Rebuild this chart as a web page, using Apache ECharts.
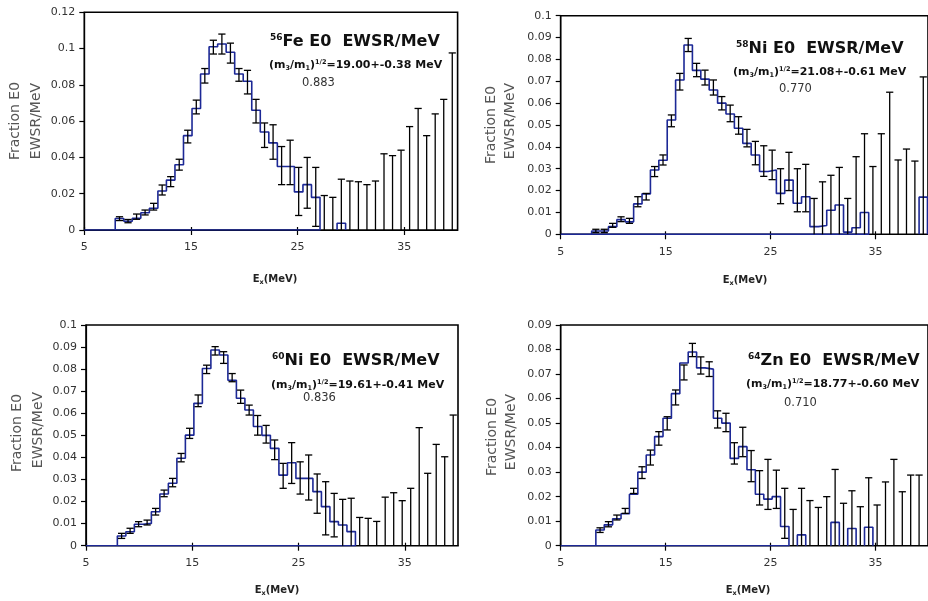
<!DOCTYPE html>
<html>
<head>
<meta charset="utf-8">
<script src="https://cdn.jsdelivr.net/npm/echarts@6/dist/echarts.min.js"></script>
<style>
html,body{margin:0;padding:0;background:#fff;overflow:hidden;}
#chart{width:928px;height:601px;}
</style>
</head>
<body>
<div id="chart"></div>
<script>
// ---------------- data ----------------
const xTicks = [5, 15, 25, 35];
const binW = 0.8;

// 56Fe
const feE = [8.3, 9.1, 9.9, 10.7, 11.5, 12.3, 13.1, 13.9, 14.7, 15.5, 16.3, 17.1, 17.9, 18.7, 19.5, 20.3, 21.1, 21.9, 22.7, 23.5, 24.3, 25.1, 25.9, 26.7, 27.5, 28.3, 29.1, 29.9, 30.7, 31.5, 32.3, 33.1, 33.9, 34.7, 35.5, 36.3, 37.1, 37.9, 38.7, 39.5];
const feVal = [0.0063, 0.0048, 0.0065, 0.0095, 0.012, 0.0215, 0.0275, 0.036, 0.052, 0.067, 0.086, 0.101, 0.1025, 0.098, 0.086, 0.082, 0.066, 0.054, 0.048, 0.035, 0.035, 0.021, 0.025, 0.018, 0, 0, 0.0037, 0, 0, 0, 0, 0, 0, 0, 0, 0, 0, 0, 0, 0];
const feHi = [0.0073, 0.0058, 0.0088, 0.011, 0.0147, 0.0248, 0.0294, 0.039, 0.055, 0.0716, 0.089, 0.1046, 0.108, 0.103, 0.089, 0.088, 0.072, 0.059, 0.058, 0.046, 0.0495, 0.0345, 0.040, 0.0345, 0.019, 0.018, 0.028, 0.027, 0.0266, 0.025, 0.027, 0.042, 0.041, 0.044, 0.057, 0.067, 0.052, 0.064, 0.072, 0.0976];
const feLo = [0.0052, 0.004, 0.0059, 0.0083, 0.011, 0.0193, 0.0239, 0.033, 0.048, 0.064, 0.081, 0.097, 0.097, 0.092, 0.082, 0.075, 0.059, 0.0455, 0.039, 0.025, 0.025, 0.008, 0.012, 0.002, 0, 0, 0, 0, 0, 0, 0, 0, 0, 0, 0, 0, 0, 0, 0, 0];

// 58Ni
const ni58E = [8.35, 9.15, 9.95, 10.75, 11.55, 12.35, 13.15, 13.95, 14.75, 15.55, 16.35, 17.15, 17.95, 18.75, 19.55, 20.35, 21.15, 21.95, 22.75, 23.55, 24.35, 25.15, 25.95, 26.75, 27.55, 28.35, 29.15, 29.95, 30.75, 31.55, 32.35, 33.15, 33.95, 34.75, 35.55, 36.35, 37.15, 37.95, 38.75, 39.55];
const ni58Val = [0.0015, 0.0015, 0.0035, 0.0067, 0.0057, 0.0139, 0.0185, 0.0294, 0.0339, 0.0523, 0.0706, 0.0866, 0.075, 0.071, 0.066, 0.060, 0.055, 0.0485, 0.0416, 0.0363, 0.0287, 0.0294, 0.0187, 0.0248, 0.0142, 0.0172, 0.0035, 0.004, 0.011, 0.0134, 0.001, 0.003, 0.010, 0, 0, 0, 0, 0, 0, 0.017];
const ni58Hi = [0.0023, 0.0023, 0.005, 0.008, 0.0073, 0.0172, 0.0187, 0.031, 0.0363, 0.0546, 0.0736, 0.0896, 0.0782, 0.0751, 0.0706, 0.063, 0.0591, 0.0538, 0.048, 0.0425, 0.0405, 0.0385, 0.030, 0.0375, 0.030, 0.032, 0.0164, 0.024, 0.027, 0.0306, 0.0164, 0.0355, 0.046, 0.031, 0.046, 0.065, 0.034, 0.039, 0.0335, 0.072];
const ni58Lo = [0.0008, 0.0008, 0.0032, 0.0058, 0.005, 0.0126, 0.0157, 0.0264, 0.0317, 0.0492, 0.066, 0.0836, 0.0721, 0.0683, 0.0637, 0.0569, 0.0515, 0.0458, 0.040, 0.0318, 0.0265, 0.025, 0.014, 0.020, 0.0103, 0.0103, 0, 0, 0, 0, 0, 0, 0, 0, 0, 0, 0, 0, 0, 0];

// 60Ni
const ni60E = [8.35, 9.15, 9.95, 10.75, 11.55, 12.35, 13.15, 13.95, 14.75, 15.55, 16.35, 17.15, 17.95, 18.75, 19.55, 20.35, 21.15, 21.95, 22.75, 23.55, 24.35, 25.15, 25.95, 26.75, 27.55, 28.35, 29.15, 29.95, 30.75, 31.55, 32.35, 33.15, 33.95, 34.75, 35.55, 36.35, 37.15, 37.95, 38.75, 39.55];
const ni60Val = [0.0044, 0.0063, 0.0097, 0.0101, 0.0154, 0.0234, 0.0283, 0.0396, 0.0501, 0.0645, 0.0803, 0.0887, 0.0864, 0.075, 0.0668, 0.0615, 0.054, 0.050, 0.0441, 0.032, 0.0376, 0.0305, 0.0305, 0.0245, 0.0177, 0.0109, 0.0094, 0.0064, 0, 0, 0, 0, 0, 0, 0, 0, 0, 0, 0, 0];
const ni60Hi = [0.0056, 0.0079, 0.0109, 0.0116, 0.0169, 0.0252, 0.0305, 0.0418, 0.0532, 0.0683, 0.0818, 0.0902, 0.0879, 0.078, 0.0705, 0.0637, 0.059, 0.0545, 0.0479, 0.0373, 0.0467, 0.038, 0.0411, 0.0325, 0.029, 0.0237, 0.021, 0.0215, 0.0128, 0.0124, 0.011, 0.022, 0.024, 0.0204, 0.026, 0.0535, 0.0328, 0.0459, 0.0403, 0.0592];
const ni60Lo = [0.0033, 0.0056, 0.0086, 0.0094, 0.0139, 0.0222, 0.0267, 0.038, 0.0486, 0.063, 0.078, 0.0864, 0.0826, 0.0743, 0.0645, 0.0592, 0.0501, 0.0465, 0.039, 0.026, 0.0282, 0.0234, 0.0207, 0.0147, 0.0049, 0.004, 0, 0, 0, 0, 0, 0, 0, 0, 0, 0, 0, 0, 0, 0];

// 64Zn
const znE = [8.75, 9.55, 10.35, 11.15, 11.95, 12.75, 13.55, 14.35, 15.15, 15.95, 16.75, 17.55, 18.35, 19.15, 19.95, 20.75, 21.55, 22.35, 23.15, 23.95, 24.75, 25.55, 26.35, 27.15, 27.95, 28.75, 29.55, 30.35, 31.15, 31.95, 32.75, 33.55, 34.35, 35.15, 35.95, 36.75, 37.55, 38.35, 39.15];
const znVal = [0.0064, 0.0085, 0.011, 0.013, 0.021, 0.030, 0.037, 0.0445, 0.052, 0.062, 0.0745, 0.079, 0.0725, 0.072, 0.052, 0.050, 0.0356, 0.0404, 0.031, 0.021, 0.019, 0.020, 0.0078, 0, 0.0044, 0, 0, 0, 0.0095, 0, 0.007, 0, 0.0075, 0, 0, 0, 0, 0, 0];
const znHi = [0.0073, 0.0098, 0.0125, 0.0152, 0.0234, 0.0322, 0.039, 0.0465, 0.0526, 0.0635, 0.0737, 0.0825, 0.077, 0.075, 0.055, 0.054, 0.042, 0.0483, 0.0388, 0.0306, 0.0352, 0.0308, 0.0234, 0.0148, 0.0234, 0.0184, 0.0156, 0.020, 0.0311, 0.0173, 0.0224, 0.0159, 0.0277, 0.0166, 0.026, 0.0352, 0.022, 0.0288, 0.0288];
const znLo = [0.0054, 0.0077, 0.0105, 0.0132, 0.0213, 0.0274, 0.0329, 0.041, 0.0472, 0.0574, 0.0676, 0.0771, 0.070, 0.069, 0.048, 0.0465, 0.0333, 0.0363, 0.0261, 0.0166, 0.0148, 0.0152, 0.003, 0, 0, 0, 0, 0, 0, 0, 0, 0, 0, 0, 0, 0, 0, 0, 0];

// text
const nuclei = ['56', '58', '60', '64'];
const elements = ['Fe', 'Ni', 'Ni', 'Zn'];
const centroids = ['19.00+-0.38', '21.08+-0.61', '19.61+-0.41', '18.77+-0.60'];
const fractions = ['0.883', '0.770', '0.836', '0.710'];
const yMaxes = [0.12, 0.1, 0.1, 0.09];
const ySteps = [0.02, 0.01, 0.01, 0.01];

// ---------------- layout ----------------
const FONT = 'DejaVu Sans';
const BLUE = '#1c2896';
const layout = [
  {grid: {left: 84.3, top: 12.3, width: 373.3, height: 217.7}, title: [270, 42], sub: [269, 65], frac: [302, 83], yt1: [15, 121], yt2: [36, 121], xt: [275, 279]},
  {grid: {left: 560.7, top: 15.7, width: 372.8, height: 218.6}, title: [736, 49], sub: [733, 72], frac: [779, 89], yt1: [491, 125], yt2: [510, 121], xt: [745, 280]},
  {grid: {left: 86, top: 325, width: 372, height: 220.7}, title: [272, 361], sub: [271, 385], frac: [303, 398], yt1: [17, 433], yt2: [38, 430], xt: [277, 590]},
  {grid: {left: 560.7, top: 325, width: 374.5, height: 220.7}, title: [748, 361], sub: [746, 384], frac: [784, 403], yt1: [492, 437], yt2: [511, 432], xt: [748, 590]}
];

const panels = [
  {E: feE, val: feVal, hi: feHi, lo: feLo},
  {E: ni58E, val: ni58Val, hi: ni58Hi, lo: ni58Lo},
  {E: ni60E, val: ni60Val, hi: ni60Hi, lo: ni60Lo},
  {E: znE, val: znVal, hi: znHi, lo: znLo}
];

// build step runs (contiguous non-zero bins); first run starts at axis min and returns along baseline
function stepRuns(E, val, xmin) {
  const runs = [];
  let cur = null, first = true;
  for (let i = 0; i < E.length; i++) {
    const l = E[i] - binW / 2, r = E[i] + binW / 2, v = val[i];
    if (v > 0) {
      if (!cur) {
        cur = [];
        if (first) cur.push([xmin, 0]);
        cur.push([l, 0]);
      }
      cur.push([l, v], [r, v]);
    } else if (cur) {
      cur.push([l, 0]);
      if (first) { cur.push([xmin, 0]); first = false; }
      runs.push(cur); cur = null;
    }
  }
  if (cur) {
    cur.push([E[E.length - 1] + binW / 2, 0]);
    if (first) cur.push([xmin, 0]);
    runs.push(cur);
  }
  return runs;
}

const grids = [], xAxes = [], yAxes = [], series = [], graphics = [];
const axisLabelStyle = {fontFamily: FONT, fontSize: 11, color: '#333'};

panels.forEach((p, k) => {
  const L = layout[k];
  grids.push(Object.assign({show: true, borderColor: '#000', borderWidth: 1.6, backgroundColor: '#fff'}, L.grid));
  xAxes.push({
    type: 'value', gridIndex: k, min: 5, max: 40, position: 'bottom',
    axisLine: {show: true, onZero: false, lineStyle: {color: '#000', width: 1.2}},
    axisTick: {show: true, customValues: xTicks, length: 5, lineStyle: {color: '#000', width: 1.2}},
    axisLabel: Object.assign({customValues: xTicks, margin: 12}, axisLabelStyle),
    splitLine: {show: false}
  });
  xAxes.push({
    type: 'value', gridIndex: k, min: 5, max: 40, position: 'bottom', offset: 0,
    axisLine: {show: false},
    axisTick: {show: true, inside: true, customValues: xTicks, length: 3, lineStyle: {color: '#000', width: 1.2}},
    axisLabel: {show: false},
    splitLine: {show: false}
  });
  yAxes.push({
    type: 'value', gridIndex: k, min: 0, max: yMaxes[k], interval: ySteps[k],
    axisLine: {show: true, lineStyle: {color: '#000', width: 1.2}},
    axisTick: {show: true, length: 5, lineStyle: {color: '#000', width: 1.2}},
    axisLabel: Object.assign({margin: 9}, axisLabelStyle),
    splitLine: {show: false}
  });

  stepRuns(p.E, p.val, 5).forEach(run => {
    series.push({
      type: 'line', xAxisIndex: 2 * k, yAxisIndex: k, data: run,
      symbol: 'none', showSymbol: false, silent: true, animation: false, z: 3,
      lineStyle: {color: BLUE, width: 1.6}
    });
  });

  series.push({
    type: 'custom', xAxisIndex: 2 * k, yAxisIndex: k, z: 4, silent: true, animation: false, clip: false,
    data: p.E.map((e, i) => [e, p.lo[i], p.hi[i]]),
    encode: {x: 0, y: [1, 2]},
    renderItem: function (params, api) {
      const x = api.value(0), lo = api.value(1), hi = api.value(2);
      const t = api.coord([x, hi]), b = api.coord([x, lo]);
      const cw = 3.6;
      const st = {stroke: '#000', lineWidth: 1.3};
      const ch = [
        {type: 'line', shape: {x1: t[0], y1: t[1], x2: b[0], y2: b[1]}, style: st},
        {type: 'line', shape: {x1: t[0] - cw, y1: t[1], x2: t[0] + cw, y2: t[1]}, style: st}
      ];
      if (lo > 0) ch.push({type: 'line', shape: {x1: b[0] - cw, y1: b[1], x2: b[0] + cw, y2: b[1]}, style: st});
      return {type: 'group', children: ch};
    }
  });

  // texts
  graphics.push({
    type: 'text', x: L.title[0], y: L.title[1], z: 10,
    style: {
      text: '{s|' + nuclei[k] + '}{t|' + elements[k] + ' E0  EWSR/MeV}',
      verticalAlign: 'middle', align: 'left', fill: '#111',
      rich: {
        s: {fontFamily: FONT, fontWeight: 'bold', fontSize: 9, verticalAlign: 'top', lineHeight: 18, fill: '#111'},
        t: {fontFamily: FONT, fontWeight: 'bold', fontSize: 16, lineHeight: 18, fill: '#111'}
      }
    }
  });
  graphics.push({
    type: 'text', x: L.sub[0], y: L.sub[1], z: 10,
    style: {
      text: '{b|(m}{d|3}{b|/m}{d|1}{b|)}{u|1/2}{b|=' + centroids[k] + ' MeV}',
      verticalAlign: 'middle', align: 'left', fill: '#111',
      rich: {
        b: {fontFamily: FONT, fontWeight: 'bold', fontSize: 11, lineHeight: 13, fill: '#111'},
        d: {fontFamily: FONT, fontWeight: 'bold', fontSize: 6.5, lineHeight: 13, verticalAlign: 'bottom', fill: '#111'},
        u: {fontFamily: FONT, fontWeight: 'bold', fontSize: 6.5, lineHeight: 13, verticalAlign: 'top', fill: '#111'}
      }
    }
  });
  graphics.push({
    type: 'text', x: L.frac[0], y: L.frac[1], z: 10,
    style: {text: fractions[k], fontFamily: FONT, fontSize: 11.5, fill: '#333', verticalAlign: 'middle', align: 'left'}
  });
  graphics.push({
    type: 'text', x: L.yt1[0], y: L.yt1[1], rotation: Math.PI / 2, z: 10,
    style: {text: 'Fraction E0', fontFamily: FONT, fontSize: 14, fill: '#555', verticalAlign: 'middle', align: 'center'}
  });
  graphics.push({
    type: 'text', x: L.yt2[0], y: L.yt2[1], rotation: Math.PI / 2, z: 10,
    style: {text: 'EWSR/MeV', fontFamily: FONT, fontSize: 14, fill: '#555', verticalAlign: 'middle', align: 'center'}
  });
  graphics.push({
    type: 'text', x: L.xt[0], y: L.xt[1], z: 10,
    style: {
      text: '{b|E}{d|x}{b|(MeV)}', verticalAlign: 'middle', align: 'center', fill: '#222',
      rich: {
        b: {fontFamily: FONT, fontWeight: 'bold', fontSize: 10, lineHeight: 13, fill: '#222'},
        d: {fontFamily: FONT, fontWeight: 'bold', fontSize: 6.5, lineHeight: 13, verticalAlign: 'bottom', fill: '#222'}
      }
    }
  });
});

const chart = echarts.init(document.getElementById('chart'), null, {renderer: 'canvas'});
chart.setOption({
  backgroundColor: '#fff',
  animation: false,
  grid: grids,
  xAxis: xAxes,
  yAxis: yAxes,
  series: series,
  graphic: graphics
});
</script>
</body>
</html>
